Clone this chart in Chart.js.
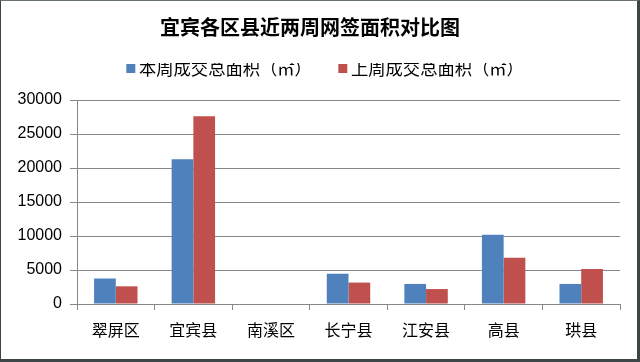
<!DOCTYPE html>
<html><head><meta charset="utf-8">
<script src="https://cdn.jsdelivr.net/npm/chart.js@4/dist/chart.umd.min.js"></script>
<style>
html,body{margin:0;padding:0;background:#fff}
#wrap{position:relative;width:640px;height:362px;overflow:hidden}
#c{position:absolute;left:0;top:0}
#frame{position:absolute;left:0;top:0;width:640px;height:362px;box-sizing:border-box;border-left:1px solid #3c4646;border-top:1px solid #6a7474;border-right:3px solid #3c4646;border-bottom:3px solid #3c4646;pointer-events:none}
</style></head><body>
<div id="wrap"><canvas id="c" width="640" height="362"></canvas><div id="frame"></div></div>
<script>
const categories = ['翠屏区', '宜宾县', '南溪区', '长宁县', '江安县', '高县', '珙县'];
const thisWeek = [3750, 21300, 0, 4450, 2950, 10200, 2950];
const lastWeek = [2600, 27600, 0, 3150, 2200, 6800, 5150];
const seriesNames = ['本周成交总面积（㎡）', '上周成交总面积（㎡）'];
const yTicks = [0, 5000, 10000, 15000, 20000, 25000, 30000];
const chartTitle = '宜宾各区县近两周网签面积对比图';

const BLUE = '#4F81BD', RED = '#C0504D', GRID = '#888888';
const CJK = '"Noto Sans CJK SC", "Noto Sans", sans-serif';

// legend geometry (measured so the legend lands where the reference has it)
const LEG_SIZE = 17.3;
const meas = document.createElement('canvas').getContext('2d');
meas.font = LEG_SIZE + 'px ' + CJK;
const T = meas.measureText(seriesNames[0]).width;
const h = LEG_SIZE / 2;
const TEXT1 = 139, TEXT_GAP = 212, LEG_CY = 68, RIGHT_PAD = 20;
const half = (640 - RIGHT_PAD) / 2;
let legPad = 2 * (half - T - TEXT1);
let bw = TEXT_GAP - T - h - legPad;
if (bw < 0.5) { bw = 0.5; }
const boxOff = h + bw / 2 - 12.5; // square left relative to icon centre

function makeIcon(color) {
  const cv = document.createElement('canvas');
  cv.width = 80; cv.height = 10;
  const g = cv.getContext('2d');
  g.fillStyle = color;
  g.fillRect(Math.round(40 + boxOff), 1, 9, 9);
  return cv;
}
const icons = [makeIcon(BLUE), makeIcon(RED)];

const TITLE_TOP = 15;
const legTop = LEG_CY - legPad - h;
const titleBottom = legTop - TITLE_TOP - 24;
const legBottom = legTop + LEG_SIZE + legPad + 10;
const spacer = 100 - legBottom;

new Chart(document.getElementById('c'), {
  type: 'bar',
  data: {
    labels: categories,
    datasets: [
      {label: seriesNames[0], data: thisWeek, backgroundColor: BLUE, xAxisID: 'x', yAxisID: 'y'},
      {label: seriesNames[1], data: lastWeek, backgroundColor: RED, xAxisID: 'x', yAxisID: 'y'}
    ]
  },
  options: {
    responsive: false,
    devicePixelRatio: 1,
    animation: false,
    layout: {padding: {left: 0, right: RIGHT_PAD, top: 0, bottom: 0}},
    datasets: {bar: {categoryPercentage: 0.56, barPercentage: 1}},
    plugins: {
      tooltip: {enabled: false},
      title: {
        display: true, text: chartTitle, color: '#000',
        font: {family: CJK, size: 20, weight: 'bold', lineHeight: 1.2},
        padding: {top: TITLE_TOP, bottom: titleBottom}
      },
      legend: {
        display: true, position: 'top',
        labels: {
          color: '#000',
          font: {family: CJK, size: LEG_SIZE},
          padding: legPad,
          usePointStyle: true,
          pointStyleWidth: bw,
          generateLabels(chart) {
            const items = Chart.defaults.plugins.legend.labels.generateLabels(chart);
            items.forEach((it, i) => { it.pointStyle = icons[i]; });
            return items;
          }
        }
      }
    },
    scales: {
      x: {
        type: 'category', position: 'bottom',
        grid: {display: true, drawOnChartArea: false, drawTicks: true, tickLength: 6, color: GRID, offset: true},
        border: {color: GRID},
        ticks: {color: '#000', font: {family: CJK, size: 16}, padding: 10, maxRotation: 0},
        afterFit(s) { s.height = 58; }
      },
      xs: {
        type: 'category', position: 'top', display: true,
        grid: {display: false, drawTicks: false},
        border: {display: false},
        ticks: {display: false},
        afterFit(s) { s.height = spacer; }
      },
      y: {
        min: 0, max: 30000,
        afterBuildTicks(s) { s.ticks = yTicks.map(v => ({value: v})); },
        grid: {color: GRID, tickLength: 7, lineWidth: 1},
        border: {color: GRID},
        ticks: {color: '#000', font: {family: '"Liberation Sans", Arial, sans-serif', size: 16}, padding: 8,
                callback: (v) => String(v)},
        afterFit(s) { s.width = 77; }
      }
    }
  }
});
</script>
</body></html>
